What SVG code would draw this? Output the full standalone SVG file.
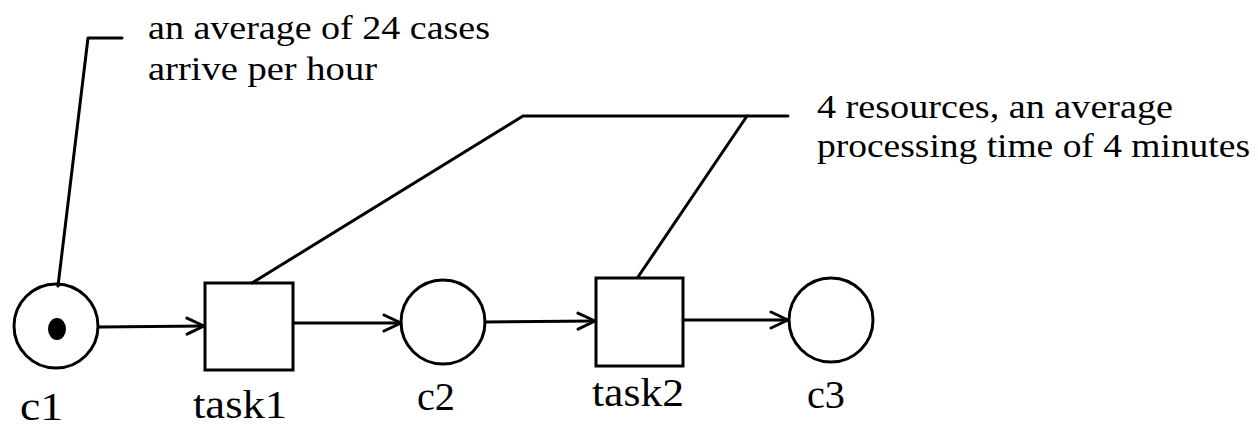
<svg xmlns="http://www.w3.org/2000/svg" width="1258" height="430" viewBox="0 0 1258 430">
<defs>
<style>
.n{fill:none;stroke:#000;stroke-width:3}
.l{fill:none;stroke:#000;stroke-width:3;stroke-linecap:round;stroke-linejoin:round}
</style>
<marker id="ah" viewBox="0 0 20 20" refX="19" refY="10" markerWidth="20" markerHeight="20" markerUnits="userSpaceOnUse" orient="auto">
<path d="M2,2 L19,10 L2,18" fill="none" stroke="#000" stroke-width="3" stroke-linecap="round" stroke-linejoin="round"/>
</marker>
</defs>
<rect width="1258" height="430" fill="#fff"/>
<g id="connectors">
<line class="l" x1="99" y1="327" x2="204" y2="326" marker-end="url(#ah)"/>
<line class="l" x1="294" y1="323" x2="401" y2="323" marker-end="url(#ah)"/>
<line class="l" x1="485" y1="322" x2="595" y2="321" marker-end="url(#ah)"/>
<line class="l" x1="684" y1="320" x2="788" y2="320" marker-end="url(#ah)"/>
<polyline class="l" points="58,286 88,38 122,38"/>
<polyline class="l" points="252,283 523,116 788,116"/>
<line class="l" x1="638" y1="277" x2="747" y2="116"/>
</g>
<g font-family="Liberation Serif, Times New Roman, serif" font-size="39" fill="#000">
<g id="c1">
<circle class="n" cx="56" cy="326" r="42"/>
<ellipse cx="57" cy="329" rx="9" ry="11" fill="#000"/>
<text x="20" y="420" textLength="43" lengthAdjust="spacingAndGlyphs">c1</text>
</g>
<g id="task1">
<rect class="n" x="205" y="283" width="88" height="87"/>
<text x="193" y="418" textLength="94" lengthAdjust="spacingAndGlyphs">task1</text>
</g>
<g id="c2">
<circle class="n" cx="443" cy="322" r="42"/>
<text x="417" y="410" textLength="38" lengthAdjust="spacingAndGlyphs">c2</text>
</g>
<g id="task2">
<rect class="n" x="596" y="278" width="87" height="88"/>
<text x="592" y="406" textLength="92" lengthAdjust="spacingAndGlyphs">task2</text>
</g>
<g id="c3">
<circle class="n" cx="831" cy="320" r="42"/>
<text x="807" y="408" textLength="38" lengthAdjust="spacingAndGlyphs">c3</text>
</g>
</g>
<g font-family="Liberation Serif, Times New Roman, serif" font-size="33" fill="#000">
<g id="note1">
<text x="148" y="39" textLength="342" lengthAdjust="spacingAndGlyphs">an average of 24 cases</text>
<text x="148" y="80" textLength="229" lengthAdjust="spacingAndGlyphs">arrive per hour</text>
</g>
<g id="note2">
<text x="817" y="118" textLength="356" lengthAdjust="spacingAndGlyphs">4 resources, an average</text>
<text x="817" y="157" textLength="433" lengthAdjust="spacingAndGlyphs">processing time of 4 minutes</text>
</g>
</g>
</svg>
